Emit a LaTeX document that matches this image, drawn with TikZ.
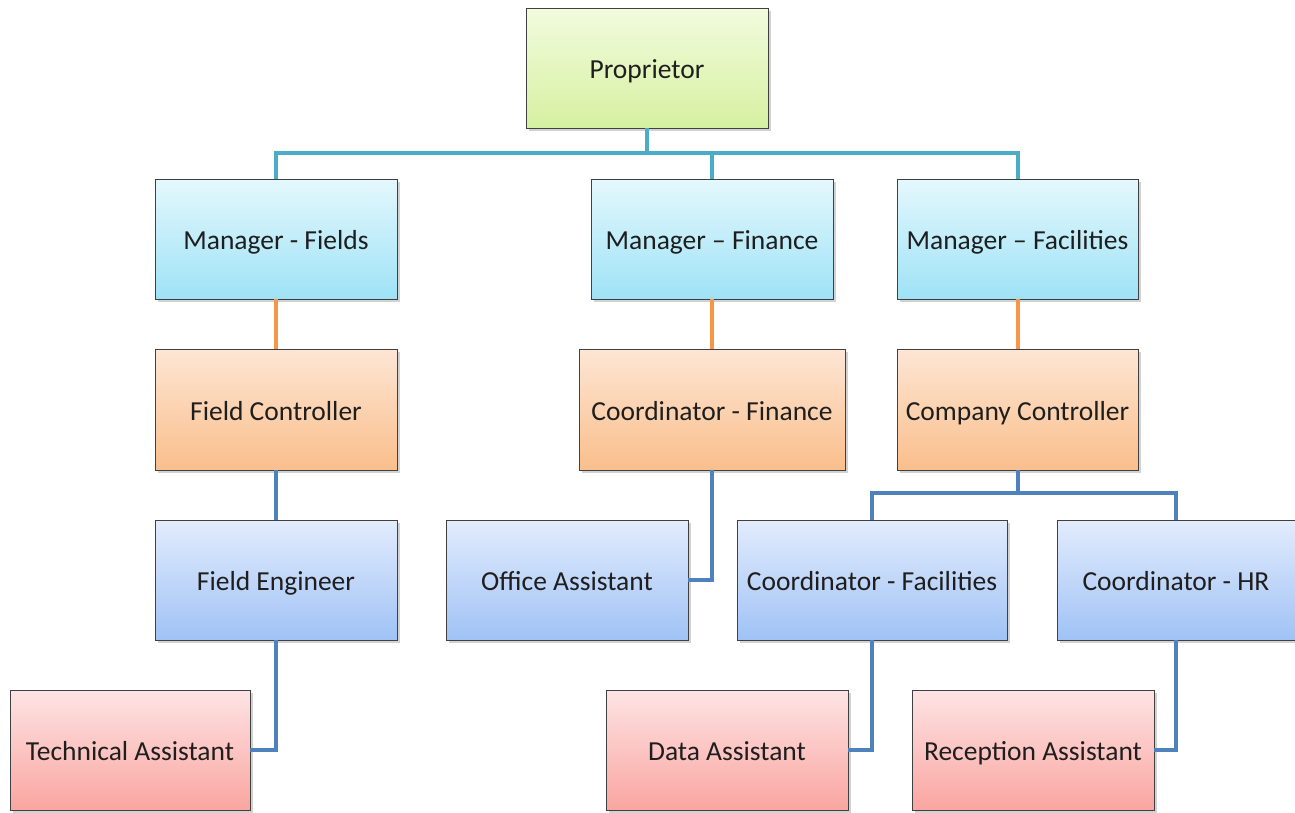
\documentclass[tikz,border=0pt]{standalone}
\usepackage{fontspec}
\setmainfont{Carlito}
\usetikzlibrary{shadows}
\definecolor{gT}{RGB}{242,251,222}\definecolor{gB}{RGB}{214,240,160}
\definecolor{cT}{RGB}{228,248,253}\definecolor{cB}{RGB}{158,226,246}
\definecolor{oT}{RGB}{253,230,212}\definecolor{oB}{RGB}{250,190,140}
\definecolor{bT}{RGB}{226,236,252}\definecolor{bB}{RGB}{160,194,246}
\definecolor{rT}{RGB}{253,228,228}\definecolor{rB}{RGB}{250,165,160}
\definecolor{lineTeal}{RGB}{75,172,198}
\definecolor{lineOrange}{RGB}{247,150,70}
\definecolor{lineBlue}{RGB}{79,129,189}
\definecolor{txt}{RGB}{30,30,30}
\tikzset{
  box/.style={draw=black!75, line width=0.8pt, minimum width=242pt, minimum height=120pt,
    inner sep=0pt, text=txt, font=\fontsize{27.5}{32}\selectfont,
    text height=21pt, text depth=0pt,
    drop shadow={shadow xshift=3pt, shadow yshift=-3pt, fill=black!35, opacity=0.5}},
  gbox/.style={box, top color=gT, bottom color=gB},
  cbox/.style={box, top color=cT, bottom color=cB},
  obox/.style={box, top color=oT, bottom color=oB},
  bbox/.style={box, top color=bT, bottom color=bB},
  rbox/.style={box, top color=rT, bottom color=rB},
  tealline/.style={draw=lineTeal, line width=4pt},
  orangeline/.style={draw=lineOrange, line width=4pt},
  blueline/.style={draw=lineBlue, line width=4pt},
}
\begin{document}
\begin{tikzpicture}[x=1pt,y=-1pt]
\useasboundingbox (0,0) rectangle (1295,812);
\node[gbox] (prop) at (647,68) {Proprietor};
\node[cbox] (mf) at (276,239) {Manager - Fields};
\node[cbox] (mfin) at (712,239) {Manager – Finance};
\node[cbox, minimum width=241pt] (mfac) at (1017.5,239) {Manager – Facilities};
\node[obox, minimum height=121pt] (fc) at (276,409.5) {Field Controller};
\node[obox, minimum height=121pt, minimum width=266pt] (cf) at (712,409.5) {Coordinator - Finance};
\node[obox, minimum height=121pt, minimum width=241pt] (cc) at (1017.5,409.5) {Company Controller};
\node[bbox] (fe) at (276,580) {Field Engineer};
\node[bbox] (oa) at (567,580) {Office Assistant};
\node[bbox, minimum width=270pt] (cfac) at (872,580) {Coordinator - Facilities};
\node[bbox, minimum width=238pt] (chr) at (1176,580) {Coordinator - HR};
\node[rbox, minimum width=240pt] (ta) at (130,750) {Technical Assistant};
\node[rbox] (da) at (727,750) {Data Assistant};
\node[rbox] (ra) at (1033,750) {Reception Assistant};
% connectors
\draw[tealline] (prop.south) -- ++(0,25) -| (mf.north);
\draw[tealline] (prop.south) -- ++(0,25) -| (mfin.north);
\draw[tealline] (prop.south) -- ++(0,25) -| (mfac.north);
\draw[orangeline] (mf.south) -- (fc.north);
\draw[orangeline] (mfin.south) -- (cf.north);
\draw[orangeline] (mfac.south) -- (cc.north);
\draw[blueline] (fc.south) -- (fe.north);
\draw[blueline] (cf.south) |- (oa.east);
\draw[blueline] (cc.south) -- ++(0,23) -| (cfac.north);
\draw[blueline] (cc.south) -- ++(0,23) -| (chr.north);
\draw[blueline] (fe.south) |- (ta.east);
\draw[blueline] (cfac.south) |- (da.east);
\draw[blueline] (chr.south) |- (ra.east);
\end{tikzpicture}
\end{document}
